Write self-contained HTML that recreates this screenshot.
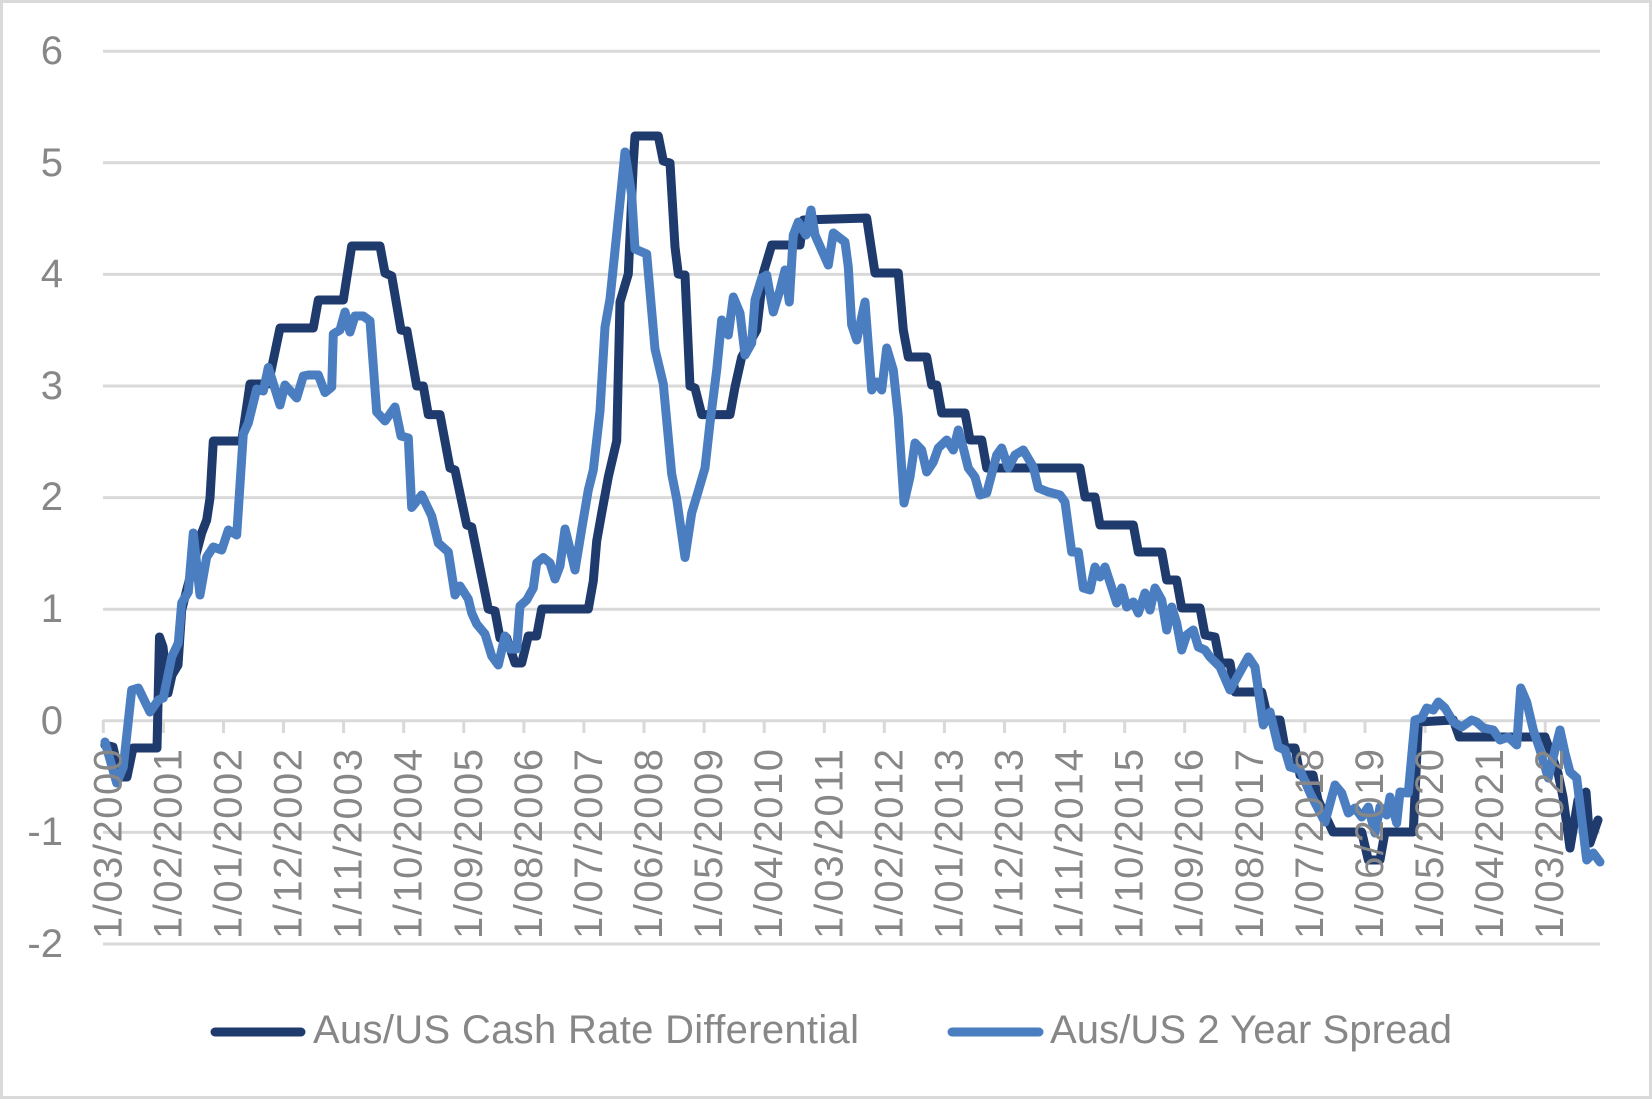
<!DOCTYPE html>
<html><head><meta charset="utf-8"><style>
html,body{margin:0;padding:0;background:#fff;}
svg{display:block;}
text{font-family:"Liberation Sans",Arial,sans-serif;fill:#878787;}
</style></head><body>
<svg width="1652" height="1099" viewBox="0 0 1652 1099" xmlns="http://www.w3.org/2000/svg">
<rect x="0" y="0" width="1652" height="1099" fill="#fff"/>
<rect x="1.5" y="1.5" width="1649" height="1096" fill="none" stroke="#d9d9d9" stroke-width="3"/>
<!-- gridlines -->
<g stroke="#d9d9d9" stroke-width="3">
<line x1="103" y1="51.2" x2="1600" y2="51.2"/>
<line x1="103" y1="162.8" x2="1600" y2="162.8"/>
<line x1="103" y1="274.4" x2="1600" y2="274.4"/>
<line x1="103" y1="386" x2="1600" y2="386"/>
<line x1="103" y1="497.6" x2="1600" y2="497.6"/>
<line x1="103" y1="609.2" x2="1600" y2="609.2"/>
<line x1="103" y1="720.8" x2="1600" y2="720.8"/>
<line x1="103" y1="832.4" x2="1600" y2="832.4"/>
<line x1="103" y1="944" x2="1600" y2="944"/>
</g>
<!-- tick marks -->
<g stroke="#d9d9d9" stroke-width="3">
<line x1="103.3" y1="720" x2="103.3" y2="733"/><line x1="163.4" y1="720" x2="163.4" y2="733"/><line x1="223.5" y1="720" x2="223.5" y2="733"/><line x1="283.5" y1="720" x2="283.5" y2="733"/><line x1="343.6" y1="720" x2="343.6" y2="733"/><line x1="403.7" y1="720" x2="403.7" y2="733"/><line x1="463.8" y1="720" x2="463.8" y2="733"/><line x1="523.9" y1="720" x2="523.9" y2="733"/><line x1="583.9" y1="720" x2="583.9" y2="733"/><line x1="644" y1="720" x2="644" y2="733"/><line x1="704.1" y1="720" x2="704.1" y2="733"/><line x1="764.2" y1="720" x2="764.2" y2="733"/><line x1="824.3" y1="720" x2="824.3" y2="733"/><line x1="884.3" y1="720" x2="884.3" y2="733"/><line x1="944.4" y1="720" x2="944.4" y2="733"/><line x1="1004.5" y1="720" x2="1004.5" y2="733"/><line x1="1064.6" y1="720" x2="1064.6" y2="733"/><line x1="1124.7" y1="720" x2="1124.7" y2="733"/><line x1="1184.7" y1="720" x2="1184.7" y2="733"/><line x1="1244.8" y1="720" x2="1244.8" y2="733"/><line x1="1304.9" y1="720" x2="1304.9" y2="733"/><line x1="1365" y1="720" x2="1365" y2="733"/><line x1="1425.1" y1="720" x2="1425.1" y2="733"/><line x1="1485.1" y1="720" x2="1485.1" y2="733"/><line x1="1545.2" y1="720" x2="1545.2" y2="733"/>
</g>
<!-- y labels -->
<g font-size="40" text-anchor="end">
<text x="63" y="64">6</text>
<text x="63" y="176">5</text>
<text x="63" y="287">4</text>
<text x="63" y="399">3</text>
<text x="63" y="510">2</text>
<text x="63" y="622">1</text>
<text x="63" y="734">0</text>
<text x="63" y="845">-1</text>
<text x="63" y="957">-2</text>
</g>
<!-- series -->
<g fill="none" stroke-width="9" stroke-linejoin="round" stroke-linecap="round">
<polyline stroke="#1f3a6c" points="105,745 113,747 120,777 127,777 133,748 157,748 159.5,637 163,647 168,693 172,675 178,665 181.7,610 186.7,590 201.7,533 206.7,520 210,498 213.3,441 241.7,441 250,384 268.3,384 280,328 313.3,328 318.3,300 343.3,300 351.7,246 380,246 385,273 391.7,276 401,330 407,331 416.7,386 423.3,386 428.3,414.6 440,414.6 450,468 455,470 466.7,525 471.7,527 488.3,609 495,611 500,638 506.7,638 515,663 521.7,663 528.3,636 536.7,636 541.7,609 588.3,609 593.3,581 596.7,541 601.7,513 608.3,477 616.7,441 620,302 628.3,274 633.3,163 635,136 658.3,136 663.3,161 670,163 675,247 678.3,274 685,275 690,386 695,388 701.7,414.6 730,414.6 735,387 741.7,357 756.7,330 763.3,273 771.7,245 800,245 803.3,220 866.7,218 875,273 898.3,273 903.3,330 908.3,357 926.7,357 931.7,385 936.7,385 941.7,413 965,413 970,440 981.7,440 986.7,468 1080,468 1085,497 1095,497 1100,525 1133.3,525 1138.3,552 1161.7,552 1166.7,580 1176.7,580 1181.7,608 1200,608 1205,635 1215,637 1220,663 1230,663 1235,692 1261.7,692 1268.3,720 1280,720 1285,748 1295,748 1300,775 1313,775 1318,800 1333,832 1361.7,832 1368.3,860 1380,860 1385,832 1413.3,832 1418.3,722 1453.3,720 1459.3,737 1545,737 1558,773 1563,797 1570,848 1578,800 1586,792 1590,843 1598,820"/>
<polyline stroke="#4a7ec1" points="105,742 116.7,783 123.3,767 131.7,690 138.3,688 150,712 158.3,700 163.3,698 171.7,657 178.3,643 181.7,603 188.3,592 193.3,533 200,595 206.7,557 213.3,547 221.7,550 228.3,530 236.7,535 243.3,434 248.3,423 256.7,389 263.3,391 268.3,367.5 280,405 285,385 296.7,398 303.3,376 308.3,375 318.3,375 325,392.5 331.7,387 333.3,334 340,330 345,312 350,332 355,316 363.3,316 370,321 376.7,412 385,421 395,407 401,436 408.3,438 411.7,507.5 421.7,495 431.7,516 438.3,543 448.3,552 455,595 460,586 468.3,599 471.7,613 476.7,624 485,634 491.7,656 498.3,665 505,636 510,649 516.7,649 520,606 526.7,600 533.3,588 536.7,563 543.3,557.5 550,563 555,579 560,566 565,529 570,549 575,570 581.7,529 588.3,490 593.3,470 600,411 605,327 610,299 620,202 625,152 631.7,195 635,249 646.7,254 655,349 663.3,384 671.7,474 676.7,499 685,557.5 691.7,513 698.3,491 705,468 710,423 716.7,370 721.7,320 728.3,335 733.3,297 740,313 745,355 751.7,343 755,300 761.7,278 766.7,275 773.3,312 780,290 785,270 789.3,302 793.3,235 798.3,222 806,235 811,210 815,235 828.3,265 833.3,233 845,242 848.3,267 851.7,325 856.7,340 865,302 871.7,390 876.7,382 881.7,390 886.7,348 893.3,370 898.3,417 904,503 910,477 915,443 921.7,450 926.7,472 933.3,462 938.3,448 946.7,440 953.3,450 958.3,430 963.3,448 968.3,468 975,477 980,495 986.7,493 996.7,455 1001.7,448 1008.3,468 1015,455 1023.3,450 1033.3,467 1038.3,488 1048.3,492 1060,495 1065,502 1071.7,552 1078.3,552 1083.3,588 1090,590 1095,567 1100,577 1105,567 1116.7,603 1121.7,588 1126.7,607 1133.3,602 1138.3,613 1145,593 1150,610 1155,588 1161.7,600 1166.7,630 1171.7,607 1176.7,623 1181.7,650 1186.7,635 1193.3,630 1198.3,647 1205,650 1210,657 1220,667 1230,690 1248.3,657 1255,667 1263.3,725 1270,712 1278.3,747 1285,750 1290,767 1300,770 1310,793 1325,822 1335,785 1341.7,793 1348.3,813 1355,808 1361.7,817 1368.3,807 1375,833 1380,807 1386.7,815 1390,797 1396.7,823 1400,792 1408.3,793 1415,720 1421.7,718 1426.7,708 1433.3,710 1438.3,702 1445,708 1453.3,722 1461.7,727 1471.7,720 1476.7,722 1483.3,728 1493.3,730 1500,740 1508.3,737 1516.7,745 1520.7,688 1526.7,702 1533.3,730 1540,750 1548.3,778 1553.3,757 1560,730 1565,753 1570,772 1576.7,778 1586.7,860 1593.3,853 1600,862"/>
</g>
<!-- x labels (rotated) -->
<g font-size="40">
<text transform="translate(121.3,939) rotate(-90)" textLength="190" lengthAdjust="spacing">1/03/2000</text>
<text transform="translate(181.4,939) rotate(-90)" textLength="190" lengthAdjust="spacing">1/02/2001</text>
<text transform="translate(241.5,939) rotate(-90)" textLength="190" lengthAdjust="spacing">1/01/2002</text>
<text transform="translate(301.5,939) rotate(-90)" textLength="190" lengthAdjust="spacing">1/12/2002</text>
<text transform="translate(361.6,939) rotate(-90)" textLength="190" lengthAdjust="spacing">1/11/2003</text>
<text transform="translate(421.7,939) rotate(-90)" textLength="190" lengthAdjust="spacing">1/10/2004</text>
<text transform="translate(481.8,939) rotate(-90)" textLength="190" lengthAdjust="spacing">1/09/2005</text>
<text transform="translate(541.9,939) rotate(-90)" textLength="190" lengthAdjust="spacing">1/08/2006</text>
<text transform="translate(601.9,939) rotate(-90)" textLength="190" lengthAdjust="spacing">1/07/2007</text>
<text transform="translate(662,939) rotate(-90)" textLength="190" lengthAdjust="spacing">1/06/2008</text>
<text transform="translate(722.1,939) rotate(-90)" textLength="190" lengthAdjust="spacing">1/05/2009</text>
<text transform="translate(782.2,939) rotate(-90)" textLength="190" lengthAdjust="spacing">1/04/2010</text>
<text transform="translate(842.3,939) rotate(-90)" textLength="190" lengthAdjust="spacing">1/03/2011</text>
<text transform="translate(902.3,939) rotate(-90)" textLength="190" lengthAdjust="spacing">1/02/2012</text>
<text transform="translate(962.4,939) rotate(-90)" textLength="190" lengthAdjust="spacing">1/01/2013</text>
<text transform="translate(1022.5,939) rotate(-90)" textLength="190" lengthAdjust="spacing">1/12/2013</text>
<text transform="translate(1082.6,939) rotate(-90)" textLength="190" lengthAdjust="spacing">1/11/2014</text>
<text transform="translate(1142.7,939) rotate(-90)" textLength="190" lengthAdjust="spacing">1/10/2015</text>
<text transform="translate(1202.7,939) rotate(-90)" textLength="190" lengthAdjust="spacing">1/09/2016</text>
<text transform="translate(1262.8,939) rotate(-90)" textLength="190" lengthAdjust="spacing">1/08/2017</text>
<text transform="translate(1322.9,939) rotate(-90)" textLength="190" lengthAdjust="spacing">1/07/2018</text>
<text transform="translate(1383,939) rotate(-90)" textLength="190" lengthAdjust="spacing">1/06/2019</text>
<text transform="translate(1443.1,939) rotate(-90)" textLength="190" lengthAdjust="spacing">1/05/2020</text>
<text transform="translate(1503.1,939) rotate(-90)" textLength="190" lengthAdjust="spacing">1/04/2021</text>
<text transform="translate(1563.2,939) rotate(-90)" textLength="190" lengthAdjust="spacing">1/03/2022</text>
</g>
<!-- legend -->
<g stroke-width="9" stroke-linecap="round">
<line x1="215" y1="1032" x2="301" y2="1032" stroke="#1f3a6c"/>
<line x1="952" y1="1032" x2="1039" y2="1032" stroke="#4a7ec1"/>
</g>
<g font-size="40">
<text x="313" y="1043" textLength="546" lengthAdjust="spacing">Aus/US Cash Rate Differential</text>
<text x="1050" y="1043" textLength="402" lengthAdjust="spacing">Aus/US 2 Year Spread</text>
</g>
</svg>
</body></html>
